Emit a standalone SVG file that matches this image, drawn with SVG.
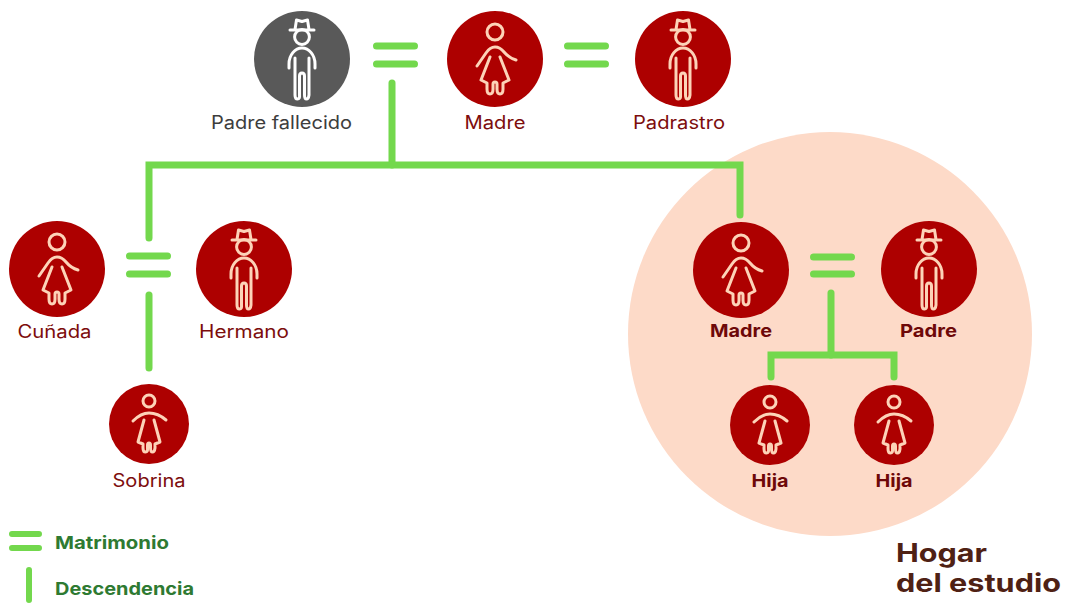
<svg xmlns="http://www.w3.org/2000/svg" width="1066" height="603" viewBox="0 0 1066 603">
<style>
text{font-family:Inter,"Open Sans","Liberation Sans",sans-serif}
.lbl{font-size:18px;fill:#7d0d0d;text-anchor:middle}
.dark{fill:#3d3d3d}
.b{font-size:17.5px;font-weight:700;fill:#6e0808;text-anchor:middle}
.leg{font-size:18px;font-weight:700;fill:#2e7a32}
.hog{font-size:25px;font-weight:700;fill:#4f2114}
.icon{fill:none;stroke:#fdd3b8;stroke-width:3;stroke-linecap:round;stroke-linejoin:round}
.white{stroke:#fff}
.red{fill:#ad0000}
.grey{fill:#595959}
.conn{fill:none;stroke:#73d84d;stroke-width:7;stroke-linecap:round;stroke-linejoin:miter}
</style>
<defs>
<g id="man">
<circle cx="0" cy="-22" r="7.4"/>
<path d="M-12 -29H12M-7 -29.500L-5.500 -39L0 -37.500L5.500 -39L7 -29.500"/>
<path d="M-13 9V5C-13 -4-7 -11 0 -11S13 -4 13 5V9"/>
<path d="M-7 -1V36Q-7 40-4.500 40T-2.500 36V17Q-2.500 14 0 14T2.500 17V36Q2.500 40 4.500 40T7 36V-1"/>
</g>
<g id="woman">
<circle cx="0" cy="-27" r="8"/>
<path d="M-18 7L-9 -6Q-5 -12 0 -12Q5 -12 9 -7Q14 -1 21 1"/>
<path d="M-5 -2L-14 21L-8 24V30Q-8 35-5 35T-2 30V25Q-2 23 0 23T2 25V30Q2 35 5 35T8 30V24L14 21L5 -2"/>
</g>
<g id="girl">
<circle cx="0" cy="-23" r="6"/>
<path d="M-16 -3Q-8 -11 0 -11Q9 -11 17 -4"/>
<path d="M-5 -4L-11 18L-6 20V24Q-6 28-3.500 28T-1.500 24V21Q-1.500 19 0 19T1.500 21V24Q1.500 28 3.500 28T6 24V20L11 18L5 -4"/>
</g>
</defs>
<circle id="hogar-bg" cx="830" cy="334" r="202" fill="#fddac8"/>
<g id="connectors" class="conn">
<path d="M376.500 46H414.500M376.500 64H414.500"/>
<path d="M567.500 46H605.500M567.500 64H605.500"/>
<path d="M129.500 256H167.500M129.500 274H167.500"/>
<path d="M813.500 257H851.500M813.500 274H851.500"/>
<path d="M392 83V165"/>
<path d="M149 238V165H740V215"/>
<path d="M149 295V368"/>
<path d="M831 293V355"/>
<path d="M771 377V355H894V377"/>
</g>
<g id="n-padre-fallecido"><circle class="grey" cx="302" cy="59" r="48"/><use href="#man" x="302" y="59" class="icon white"/><text class="lbl dark" x="281.500" y="129" textLength="141" lengthAdjust="spacingAndGlyphs">Padre fallecido</text></g>
<g id="n-madre"><circle class="red" cx="495" cy="59" r="48"/><use href="#woman" x="495" y="59" class="icon"/><text class="lbl" x="495" y="129" textLength="61" lengthAdjust="spacingAndGlyphs">Madre</text></g>
<g id="n-padrastro"><circle class="red" cx="683" cy="59" r="48"/><use href="#man" x="683" y="59" class="icon"/><text class="lbl" x="679" y="129" textLength="92" lengthAdjust="spacingAndGlyphs">Padrastro</text></g>
<g id="n-cunada"><circle class="red" cx="57" cy="269" r="48"/><use href="#woman" x="57" y="269" class="icon"/><text class="lbl" x="54.500" y="338" textLength="74" lengthAdjust="spacingAndGlyphs">Cuñada</text></g>
<g id="n-hermano"><circle class="red" cx="244" cy="269" r="48"/><use href="#man" x="244" y="269" class="icon"/><text class="lbl" x="244" y="338" textLength="90" lengthAdjust="spacingAndGlyphs">Hermano</text></g>
<g id="n-sobrina"><circle class="red" cx="149" cy="424" r="40"/><use href="#girl" x="149" y="424" class="icon"/><text class="lbl" x="149" y="487" textLength="73" lengthAdjust="spacingAndGlyphs">Sobrina</text></g>
<g id="n-madre-hogar"><circle class="red" cx="741" cy="270" r="48"/><use href="#woman" x="741" y="270" class="icon"/><text class="b" x="741" y="337" textLength="62" lengthAdjust="spacingAndGlyphs">Madre</text></g>
<g id="n-padre-hogar"><circle class="red" cx="929" cy="269" r="48"/><use href="#man" x="929" y="269" class="icon"/><text class="b" x="928.500" y="337" textLength="57" lengthAdjust="spacingAndGlyphs">Padre</text></g>
<g id="n-hija-1"><circle class="red" cx="770" cy="425" r="40"/><use href="#girl" x="770" y="425" class="icon"/><text class="b" x="770" y="487" textLength="37" lengthAdjust="spacingAndGlyphs">Hija</text></g>
<g id="n-hija-2"><circle class="red" cx="894" cy="425" r="40"/><use href="#girl" x="894" y="425" class="icon"/><text class="b" x="894" y="487" textLength="37" lengthAdjust="spacingAndGlyphs">Hija</text></g>
<g id="legend">
<path class="conn" style="stroke-width:6" d="M12 534H39M12 548H39M29 570V600"/>
<text class="leg" x="55" y="549" textLength="114" lengthAdjust="spacingAndGlyphs">Matrimonio</text>
<text class="leg" x="55" y="595" textLength="139" lengthAdjust="spacingAndGlyphs">Descendencia</text>
</g>
<g id="hogar-label">
<text class="hog" x="896" y="562" textLength="91" lengthAdjust="spacingAndGlyphs">Hogar</text>
<text class="hog" x="896" y="592" textLength="165" lengthAdjust="spacingAndGlyphs">del estudio</text>
</g>
</svg>
